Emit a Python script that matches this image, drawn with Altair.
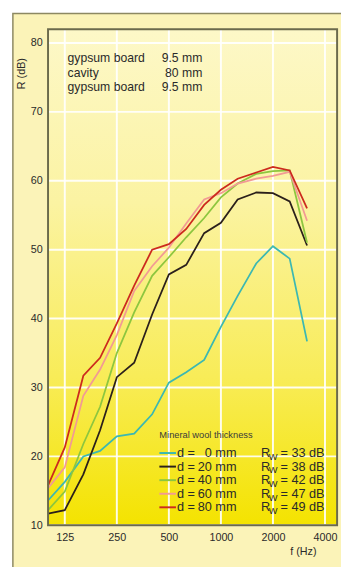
import altair as alt
import pandas as pd

# ---------------- data ----------------
freqs = [100, 125, 160, 200, 250, 315, 400, 500, 630, 800, 1000, 1250, 1600, 2000, 2500, 3150]
r_d0 = [13.6, 16.3, 20.0, 20.8, 22.9, 23.3, 26.1, 30.7, 32.2, 34.0, 38.8, 43.3, 48.0, 50.5, 48.7, 36.7]
r_d20 = [11.7, 12.2, 17.4, 23.8, 31.5, 33.6, 40.6, 46.4, 47.8, 52.4, 53.9, 57.3, 58.3, 58.2, 57.0, 50.6]
r_d40 = [12.2, 14.9, 21.8, 27.2, 35.0, 40.9, 46.2, 48.9, 51.8, 54.6, 57.6, 59.6, 61.0, 61.4, 61.5, 51.0]
r_d60 = [15.4, 18.4, 28.8, 32.6, 37.6, 44.0, 47.6, 50.3, 53.8, 57.3, 58.2, 59.6, 60.3, 60.7, 61.3, 54.2]
r_d80 = [15.8, 21.3, 31.7, 34.3, 39.3, 44.8, 50.0, 50.8, 53.0, 56.5, 58.7, 60.3, 61.2, 62.0, 61.5, 56.0]

thickness = ["0", "20", "40", "60", "80"]
rw_values = [33, 38, 42, 47, 49]
series_colors = ["#3cb8b2", "#2b201b", "#8dc63f", "#f29a94", "#cc2a1e"]

x_ticks = [125, 250, 500, 1000, 2000, 4000]
y_ticks = [10, 20, 30, 40, 50, 60, 70, 80]

materials = ["gypsum board", "cavity", "gypsum board"]
material_thick = ["9.5 mm", "80 mm", "9.5 mm"]

# ---------------- tables ----------------
rows = []
for name, vals in zip(thickness, [r_d0, r_d20, r_d40, r_d60, r_d80]):
    for f, r in zip(freqs, vals):
        rows.append({"f": f, "R": r, "d": name})
df = pd.DataFrame(rows)

legend_df = pd.DataFrame({
    "i": list(range(len(thickness))),
    "d": thickness,
    "rw": rw_values,
    "color": series_colors,
})
legend_df["dtxt"] = [t + " mm" for t in thickness]
legend_df["rwtxt"] = ["= %d dB" % v for v in rw_values]

info_df = pd.DataFrame({"i": list(range(3)), "mat": materials, "th": material_thick})

W, H = 296, 508
FONT = "Liberation Sans"
TXT = "#2a2a2a"

xscale = alt.Scale(type="log", domain=[100, 4700])
yscale = alt.Scale(domain=[10, 82])

x_axis = alt.Axis(values=x_ticks, format="d", grid=False, ticks=False, domain=False, zindex=2,
                  labelFontSize=11, labelColor=TXT, labelPadding=7, labelFont=FONT,
                  title="f (Hz)", titleFont=FONT, titleFontSize=11, titleFontWeight="normal",
                  titleColor=TXT, titleX=261, titleY=27, titleAlign="center",
                  titleBaseline="middle")
y_axis = alt.Axis(values=y_ticks, grid=False, ticks=False, domain=False, zindex=2,
                  labelFontSize=11, labelColor=TXT, labelPadding=6, labelFont=FONT,
                  title="R (dB)", titleFont=FONT, titleFontSize=11, titleFontWeight="normal",
                  titleColor=TXT, titleX=-27, titleY=45, titleAngle=270,
                  titleAlign="center", titleBaseline="middle")

one = pd.DataFrame({"a": [0]})

outer = alt.Chart(one).mark_rect(fill="#fbf3b8", stroke="#8c8862", strokeWidth=1.5).encode(
    x=alt.value(-36), x2=alt.value(320), y=alt.value(-16), y2=alt.value(580)
)

gradient = alt.LinearGradient(
    gradient="linear", x1=0, y1=0, x2=0, y2=1,
    stops=[
        alt.GradientStop(offset=0, color="#fdf8c8"),
        alt.GradientStop(offset=0.35, color="#fbf3a2"),
        alt.GradientStop(offset=0.7, color="#f8ec58"),
        alt.GradientStop(offset=1, color="#f4e300"),
    ],
)
plotbg = alt.Chart(one).mark_rect(fill=gradient).encode(
    x=alt.value(0), x2=alt.value(W), y=alt.value(0), y2=alt.value(H)
)

vgrid = alt.Chart(pd.DataFrame({"f": x_ticks})).mark_rule(color="white", strokeWidth=2, opacity=0.9).encode(
    x=alt.X("f:Q", scale=xscale, axis=x_axis), y=alt.value(0), y2=alt.value(H)
)
hgrid = alt.Chart(pd.DataFrame({"R": y_ticks})).mark_rule(color="white", strokeWidth=2, opacity=0.9).encode(
    y=alt.Y("R:Q", scale=yscale, axis=y_axis), x=alt.value(0), x2=alt.value(W)
)

lines = alt.Chart(df).mark_line(strokeWidth=1.8).encode(
    x=alt.X("f:Q", scale=xscale, axis=x_axis),
    y=alt.Y("R:Q", scale=yscale, axis=y_axis),
    color=alt.Color("d:N", scale=alt.Scale(domain=thickness, range=series_colors), legend=None),
    order=alt.Order("f:Q"),
)

frame = alt.Chart(one).mark_rect(fill=None, stroke="#6b6a4c", strokeWidth=2).encode(
    x=alt.value(0), x2=alt.value(W), y=alt.value(0), y2=alt.value(H)
)

# info text at top-left
info_base = alt.Chart(info_df).transform_calculate(ypx="30 + 14.8*datum.i")
info_left = info_base.mark_text(align="left", baseline="middle", font=FONT, fontSize=12.5, color=TXT).encode(
    x=alt.value(20), y=alt.Y("ypx:Q", scale=None), text="mat:N"
)
info_right = info_base.mark_text(align="right", baseline="middle", font=FONT, fontSize=12.5, color=TXT).encode(
    x=alt.value(158), y=alt.Y("ypx:Q", scale=None), text="th:N"
)

# legend
leg_title = alt.Chart(one).mark_text(align="left", baseline="middle", font=FONT, fontSize=9.5,
                                     color="#3a3a3a", text="Mineral wool thickness").encode(
    x=alt.value(114), y=alt.value(416)
)
leg_base = alt.Chart(legend_df).transform_calculate(ypx="434 + 13.9*datum.i")
leg_lines = leg_base.mark_rule(strokeWidth=2).encode(
    x=alt.value(114), x2=alt.value(131), y=alt.Y("ypx:Q", scale=None),
    color=alt.Color("color:N", scale=None, legend=None)
)
leg_deq = leg_base.mark_text(align="left", baseline="middle", font=FONT, fontSize=13, color=TXT, text="d =").encode(
    x=alt.value(132), y=alt.Y("ypx:Q", scale=None)
)
leg_d = leg_base.mark_text(align="right", baseline="middle", font=FONT, fontSize=13, color=TXT).encode(
    x=alt.value(193), y=alt.Y("ypx:Q", scale=None), text="dtxt:N"
)
leg_R = leg_base.mark_text(align="left", baseline="middle", font=FONT, fontSize=13, color=TXT, text="R").encode(
    x=alt.value(218), y=alt.Y("ypx:Q", scale=None)
)
leg_W = leg_base.mark_text(align="left", baseline="middle", font=FONT, fontSize=9.5, color=TXT, text="W", dy=4).encode(
    x=alt.value(226), y=alt.Y("ypx:Q", scale=None)
)
leg_rw = leg_base.mark_text(align="left", baseline="middle", font=FONT, fontSize=13, color=TXT).encode(
    x=alt.value(238), y=alt.Y("ypx:Q", scale=None), text="rwtxt:N"
)

chart = alt.layer(
    outer, plotbg, vgrid, hgrid, lines, frame,
    info_left, info_right,
    leg_title, leg_lines, leg_deq, leg_d, leg_R, leg_W, leg_rw,
).properties(
    width=W, height=H,
    autosize=alt.AutoSizeParams(type="none"),
    padding={"left": 41, "top": 15, "right": 4, "bottom": 36},
    background="white",
).configure_view(stroke=None)

chart.save("out.html", embed_options={"renderer": "svg", "actions": False})
